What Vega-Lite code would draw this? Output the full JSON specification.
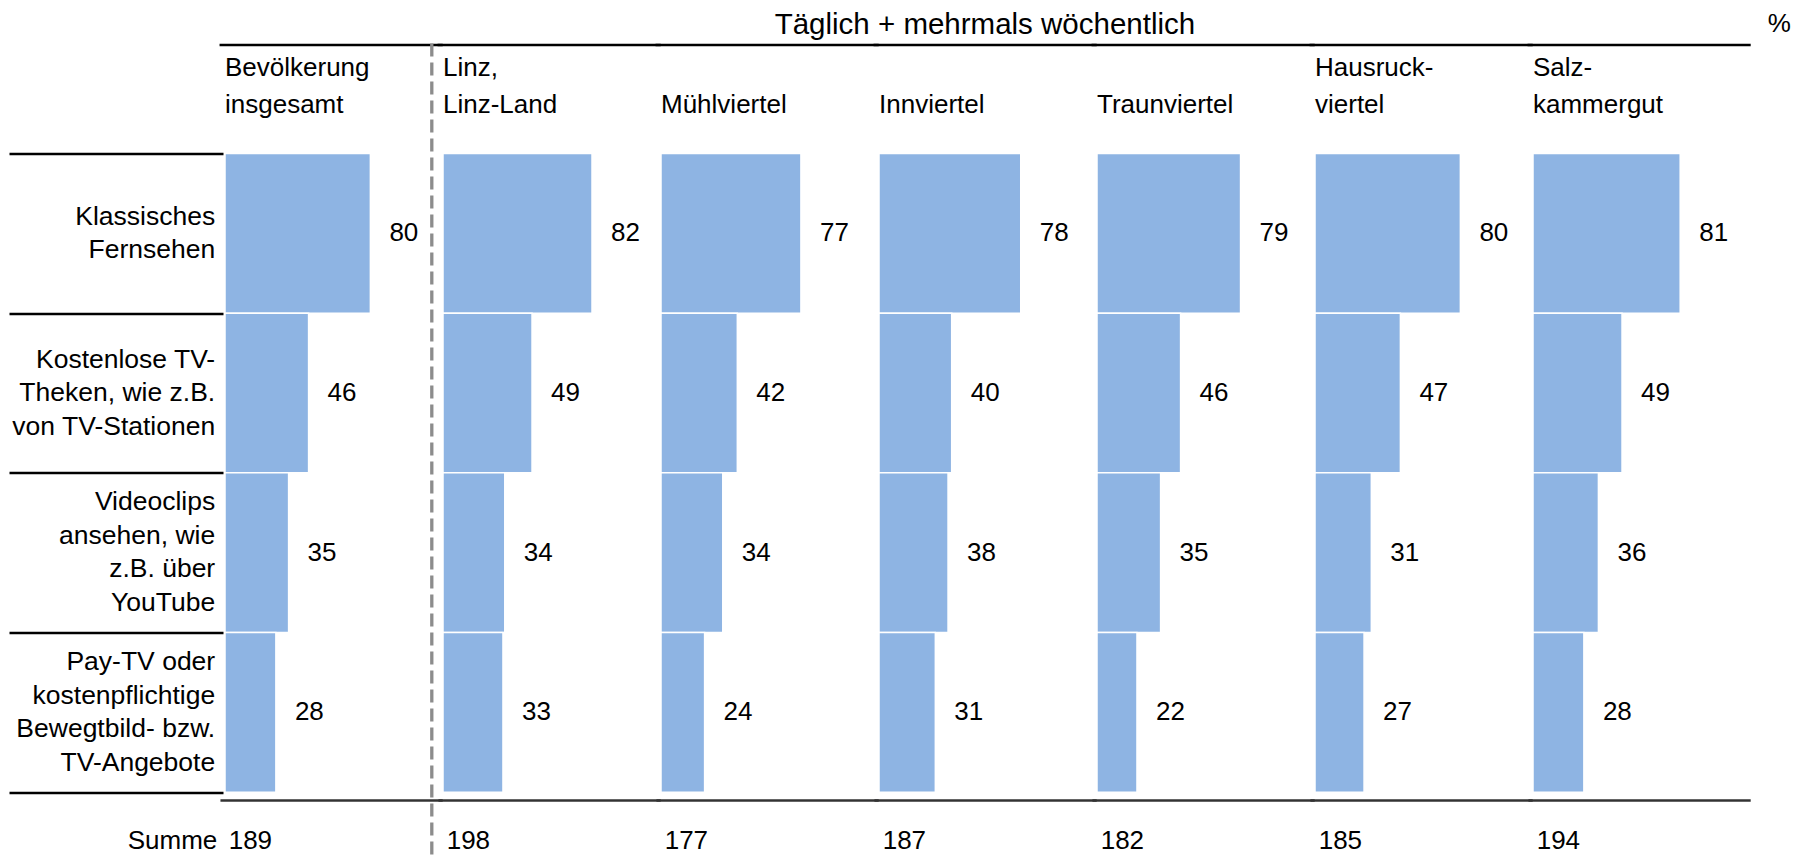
{
  "$schema": "https://vega.github.io/schema/vega-lite/v6.json",
  "bounds": "flush",
  "padding": {"left": 7, "top": 9.5, "right": 5, "bottom": 0},
  "config": {"view": {"stroke": null}, "font": "Liberation Sans"},
  "data": {"values": [
    {"region": "Bevölkerung\ninsgesamt", "cat": "Klassisches\nFernsehen", "value": 80},
    {"region": "Bevölkerung\ninsgesamt", "cat": "Kostenlose TV-\nTheken, wie z.B.\nvon TV-Stationen", "value": 46},
    {"region": "Bevölkerung\ninsgesamt", "cat": "Videoclips\nansehen, wie\nz.B. über\nYouTube", "value": 35},
    {"region": "Bevölkerung\ninsgesamt", "cat": "Pay-TV oder\nkostenpflichtige\nBewegtbild- bzw.\nTV-Angebote", "value": 28},
    {"region": "Linz,\nLinz-Land", "cat": "Klassisches\nFernsehen", "value": 82},
    {"region": "Linz,\nLinz-Land", "cat": "Kostenlose TV-\nTheken, wie z.B.\nvon TV-Stationen", "value": 49},
    {"region": "Linz,\nLinz-Land", "cat": "Videoclips\nansehen, wie\nz.B. über\nYouTube", "value": 34},
    {"region": "Linz,\nLinz-Land", "cat": "Pay-TV oder\nkostenpflichtige\nBewegtbild- bzw.\nTV-Angebote", "value": 33},
    {"region": "Mühlviertel", "cat": "Klassisches\nFernsehen", "value": 77},
    {"region": "Mühlviertel", "cat": "Kostenlose TV-\nTheken, wie z.B.\nvon TV-Stationen", "value": 42},
    {"region": "Mühlviertel", "cat": "Videoclips\nansehen, wie\nz.B. über\nYouTube", "value": 34},
    {"region": "Mühlviertel", "cat": "Pay-TV oder\nkostenpflichtige\nBewegtbild- bzw.\nTV-Angebote", "value": 24},
    {"region": "Innviertel", "cat": "Klassisches\nFernsehen", "value": 78},
    {"region": "Innviertel", "cat": "Kostenlose TV-\nTheken, wie z.B.\nvon TV-Stationen", "value": 40},
    {"region": "Innviertel", "cat": "Videoclips\nansehen, wie\nz.B. über\nYouTube", "value": 38},
    {"region": "Innviertel", "cat": "Pay-TV oder\nkostenpflichtige\nBewegtbild- bzw.\nTV-Angebote", "value": 31},
    {"region": "Traunviertel", "cat": "Klassisches\nFernsehen", "value": 79},
    {"region": "Traunviertel", "cat": "Kostenlose TV-\nTheken, wie z.B.\nvon TV-Stationen", "value": 46},
    {"region": "Traunviertel", "cat": "Videoclips\nansehen, wie\nz.B. über\nYouTube", "value": 35},
    {"region": "Traunviertel", "cat": "Pay-TV oder\nkostenpflichtige\nBewegtbild- bzw.\nTV-Angebote", "value": 22},
    {"region": "Hausruck-\nviertel", "cat": "Klassisches\nFernsehen", "value": 80},
    {"region": "Hausruck-\nviertel", "cat": "Kostenlose TV-\nTheken, wie z.B.\nvon TV-Stationen", "value": 47},
    {"region": "Hausruck-\nviertel", "cat": "Videoclips\nansehen, wie\nz.B. über\nYouTube", "value": 31},
    {"region": "Hausruck-\nviertel", "cat": "Pay-TV oder\nkostenpflichtige\nBewegtbild- bzw.\nTV-Angebote", "value": 27},
    {"region": "Salz-\nkammergut", "cat": "Klassisches\nFernsehen", "value": 81},
    {"region": "Salz-\nkammergut", "cat": "Kostenlose TV-\nTheken, wie z.B.\nvon TV-Stationen", "value": 49},
    {"region": "Salz-\nkammergut", "cat": "Videoclips\nansehen, wie\nz.B. über\nYouTube", "value": 36},
    {"region": "Salz-\nkammergut", "cat": "Pay-TV oder\nkostenpflichtige\nBewegtbild- bzw.\nTV-Angebote", "value": 28}
  ]},
  "spacing": {"column": 0},
  "facet": {
    "column": {
      "field": "region", "type": "nominal",
      "sort": ["Bevölkerung\ninsgesamt", "Linz,\nLinz-Land", "Mühlviertel", "Innviertel", "Traunviertel", "Hausruck-\nviertel", "Salz-\nkammergut"],
      "title": null,
      "header": {
        "labelExpr": "split(datum.value, '\\n')",
        "labelAlign": "left", "labelAnchor": "start", "labelBaseline": "bottom",
        "labelFont": "Liberation Sans", "labelFontSize": 26, "labelColor": "black",
        "labelLineHeight": 37, "labelPadding": 9.8
      }
    }
  },
  "spec": {
    "width": 217.7,
    "height": 638.7,
    "layer": [
      {
        "mark": {"type": "bar", "color": "#8EB4E3", "stroke": "white", "strokeWidth": 1.5},
        "encoding": {
          "x": {"field": "value", "type": "quantitative", "scale": {"domain": [0, 119.8], "nice": false, "zero": true}, "axis": null},
          "y": {
            "field": "cat", "type": "nominal",
            "sort": null,
            "scale": {
              "domain": ["Klassisches\nFernsehen", "Kostenlose TV-\nTheken, wie z.B.\nvon TV-Stationen", "Videoclips\nansehen, wie\nz.B. über\nYouTube", "Pay-TV oder\nkostenpflichtige\nBewegtbild- bzw.\nTV-Angebote"],
              "paddingInner": 0, "paddingOuter": 0
            },
            "axis": {
              "title": null, "domain": false, "grid": false, "labels": false,
              "tickBand": "extent", "tickSize": 214, "tickWidth": 2.7, "tickColor": "black",
              "offset": 2
            }
          }
        }
      },
      {
        "transform": [{"filter": "indexof(datum.region, 'Bev') == 0 && indexof(datum.cat, 'Klassisches') == 0"}],
        "mark": {"type": "text", "align": "right", "baseline": "middle", "dx": -9.8, "dy": -16.75, "fontSize": 26.5, "lineHeight": 33.5, "lineBreak": "\n", "color": "black"},
        "encoding": {
          "x": {"datum": 0, "type": "quantitative"},
          "y": {"field": "cat", "type": "nominal", "sort": null},
          "text": {"field": "cat", "type": "nominal"}
        }
      },
      {
        "transform": [{"filter": "indexof(datum.region, 'Bev') == 0 && indexof(datum.cat, 'Kostenlose') == 0"}],
        "mark": {"type": "text", "align": "right", "baseline": "middle", "dx": -9.8, "dy": -33.5, "fontSize": 26.5, "lineHeight": 33.5, "lineBreak": "\n", "color": "black"},
        "encoding": {
          "x": {"datum": 0, "type": "quantitative"},
          "y": {"field": "cat", "type": "nominal", "sort": null},
          "text": {"field": "cat", "type": "nominal"}
        }
      },
      {
        "transform": [{"filter": "indexof(datum.region, 'Bev') == 0 && (indexof(datum.cat, 'Videoclips') == 0 || indexof(datum.cat, 'Pay-TV') == 0)"}],
        "mark": {"type": "text", "align": "right", "baseline": "middle", "dx": -9.8, "dy": -50.25, "fontSize": 26.5, "lineHeight": 33.5, "lineBreak": "\n", "color": "black"},
        "encoding": {
          "x": {"datum": 0, "type": "quantitative"},
          "y": {"field": "cat", "type": "nominal", "sort": null},
          "text": {"field": "cat", "type": "nominal"}
        }
      },
      {
        "mark": {"type": "text", "align": "left", "baseline": "middle", "dx": 19, "fontSize": 26, "color": "black"},
        "encoding": {
          "x": {"field": "value", "type": "quantitative"},
          "y": {"field": "cat", "type": "nominal", "sort": null},
          "text": {"field": "value", "type": "quantitative"}
        }
      },
      {
        "transform": [{"filter": "indexof(datum.cat, 'Klassisches') == 0"}],
        "mark": {"type": "rule", "color": "black", "strokeWidth": 2.5, "yOffset": -108.6},
        "encoding": {
          "x": {"datum": -3, "type": "quantitative"},
          "x2": {"datum": 119.8},
          "y": {"field": "cat", "type": "nominal", "sort": null, "bandPosition": 0}
        }
      },
      {
        "transform": [{"filter": "indexof(datum.region, 'Innviertel') == 0 && indexof(datum.cat, 'Klassisches') == 0"}],
        "mark": {"type": "text", "align": "center", "baseline": "middle", "dy": -128.9, "fontSize": 29.5, "color": "black", "text": "Täglich + mehrmals wöchentlich"},
        "encoding": {
          "x": {"datum": 58.3, "type": "quantitative"},
          "y": {"field": "cat", "type": "nominal", "sort": null, "bandPosition": 0}
        }
      },
      {
        "transform": [{"filter": "indexof(datum.cat, 'Pay-TV') == 0"}],
        "mark": {"type": "rule", "color": "#333333", "strokeWidth": 2.5, "yOffset": 8.3},
        "encoding": {
          "x": {"datum": -2.5, "type": "quantitative"},
          "x2": {"datum": 119.8},
          "y": {"field": "cat", "type": "nominal", "sort": null, "bandPosition": 1}
        }
      },
      {
        "transform": [
          {"aggregate": [{"op": "sum", "field": "value", "as": "total"}], "groupby": ["region"]}
        ],
        "mark": {"type": "text", "align": "left", "baseline": "middle", "dx": 3.7, "dy": 49, "fontSize": 26, "color": "black"},
        "encoding": {
          "x": {"datum": 0, "type": "quantitative"},
          "y": {"datum": "Pay-TV oder\nkostenpflichtige\nBewegtbild- bzw.\nTV-Angebote", "type": "nominal", "bandPosition": 1},
          "text": {"field": "total", "type": "quantitative"}
        }
      },
      {
        "transform": [{"filter": "indexof(datum.region, 'Bev') == 0 && indexof(datum.cat, 'Pay-TV') == 0"}],
        "mark": {"type": "text", "align": "right", "baseline": "middle", "dx": -7.7, "dy": 49, "fontSize": 26, "color": "black", "text": "Summe"},
        "encoding": {
          "x": {"datum": 0, "type": "quantitative"},
          "y": {"field": "cat", "type": "nominal", "sort": null, "bandPosition": 1}
        }
      },
      {
        "transform": [{"filter": "indexof(datum.region, 'Bev') == 0 && indexof(datum.cat, 'Klassisches') == 0"}],
        "mark": {"type": "rule", "color": "#8c8c8c", "strokeWidth": 3.3, "strokeDash": [13, 6], "yOffset": -110, "y2Offset": 150},
        "encoding": {
          "x": {"datum": 113.8, "type": "quantitative"},
          "y": {"datum": "Klassisches\nFernsehen", "type": "nominal", "bandPosition": 0},
          "y2": {"datum": "Pay-TV oder\nkostenpflichtige\nBewegtbild- bzw.\nTV-Angebote"}
        }
      },
      {
        "transform": [{"filter": "indexof(datum.region, 'Salz') == 0 && indexof(datum.cat, 'Klassisches') == 0"}],
        "mark": {"type": "text", "align": "left", "baseline": "middle", "dy": -130, "fontSize": 26, "color": "black", "text": "%"},
        "encoding": {
          "x": {"datum": 129.2, "type": "quantitative"},
          "y": {"field": "cat", "type": "nominal", "sort": null, "bandPosition": 0}
        }
      }
    ]
  }
}
